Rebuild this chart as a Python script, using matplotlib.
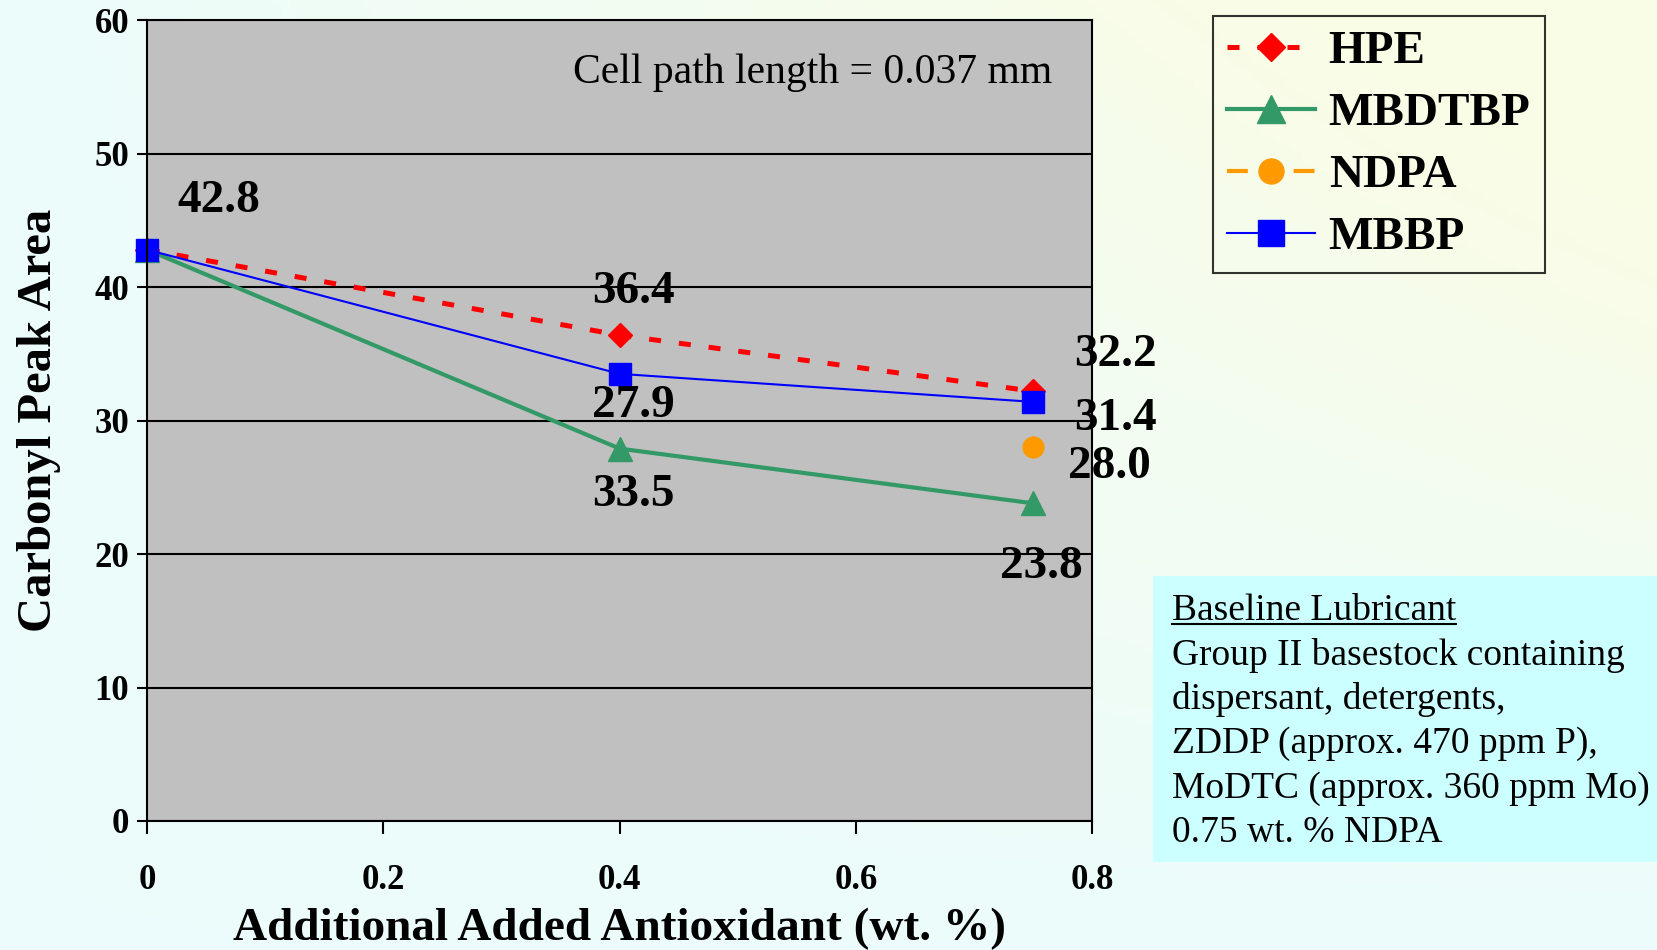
import numpy as np
import matplotlib.pyplot as plt
from matplotlib.lines import Line2D
from matplotlib.patches import Rectangle
from matplotlib.colors import LinearSegmentedColormap

plt.rcParams['font.family'] = ['Liberation Serif', 'DejaVu Serif']

# data
x = [0, 0.4, 0.75]
hpe = [42.8, 36.4, 32.2]
mbdtbp = [42.8, 27.9, 23.8]
ndpa_x = [0.75]
ndpa = [28.0]
mbbp = [42.8, 33.5, 31.4]

fig = plt.figure(figsize=(16.58, 9.5), dpi=100)

# background gradient (cyan -> pale yellow towards top right)
bg = fig.add_axes([0, 0, 1, 1], zorder=-10)
gx, gy = np.meshgrid(np.linspace(0, 1, 200), np.linspace(0, 1, 200))
grad = np.clip(gx * gy * 1.3, 0, 1)
cmap = LinearSegmentedColormap.from_list('bg', ['#ECFCFC', '#FAFDE6'])
bg.imshow(grad, cmap=cmap, origin='lower', extent=[0, 1, 0, 1], aspect='auto')
bg.axis('off')

ax = fig.add_axes([0.0887, 0.1358, 0.570, 0.843])
ax.set_facecolor('#C0C0C0')

ax.plot(x, hpe, color='red', lw=3.6, linestyle=(0, (2.4, 3.6)), dash_capstyle='butt',
        marker='D', markersize=12, label='HPE', clip_on=False)
ax.plot(x, mbdtbp, color='#339966', lw=3, marker='^', markersize=17, label='MBDTBP',
        clip_on=False)
ax.plot(ndpa_x, ndpa, color='#FF9900', lw=3, linestyle=(0, (5, 3)), marker='o',
        markersize=15, label='NDPA')
ax.plot(x, mbbp, color='blue', lw=1.5, marker='s', markersize=16, label='MBBP',
        clip_on=False)

ax.set_xlim(0, 0.8)
ax.set_ylim(0, 60)
ax.set_xticks([0, 0.2, 0.4, 0.6, 0.8])
ax.set_xticklabels(['0', '0.2', '0.4', '0.6', '0.8'])
ax.set_yticks(range(0, 61, 10))
ax.yaxis.grid(True, color='black', lw=1.5)
ax.set_axisbelow(True)
for s in ax.spines.values():
    s.set_color('black')
    s.set_linewidth(1.5)
ax.tick_params(axis='y', length=7, width=1.5, pad=6, labelsize=25)
ax.tick_params(axis='x', length=9, width=1.5, pad=22, labelsize=25)
for lab in ax.get_xticklabels() + ax.get_yticklabels():
    lab.set_fontweight('bold')

ax.set_xlabel('Additional Added Antioxidant (wt. %)', fontsize=34, fontweight='bold', labelpad=8)
ax.set_ylabel('Carbonyl Peak Area', fontsize=35, fontweight='bold', labelpad=24)

# value labels (offsets in points from each point)
labels = [
    (x[0], hpe[0], '42.8', (52, 35)),
    (x[1], hpe[1], '36.4', (10, 31)),
    (x[1], mbdtbp[1], '27.9', (10, 31)),
    (x[1], mbbp[1], '33.5', (10, -87)),
    (x[2], hpe[2], '32.2', (59, 26)),
    (x[2], mbbp[2], '31.4', (59, -12)),
    (ndpa_x[0], ndpa[0], '28.0', (55, -14)),
    (x[2], mbdtbp[2], '23.8', (6, -46)),
]
for px, py, txt, off in labels:
    ax.annotate(txt, (px, py), xytext=off, textcoords='offset points',
                ha='center', va='center', fontsize=34, fontweight='bold',
                annotation_clip=False, zorder=1)

ax.text(0.704, 0.934, 'Cell path length = 0.037 mm', transform=ax.transAxes,
        ha='center', va='center', fontsize=30)

leg = fig.legend(loc='upper left', bbox_to_anchor=(0.7316, 0.983),
                 prop={'weight': 'bold', 'size': 34}, frameon=True, fancybox=False,
                 handlelength=1.85, handletextpad=0.3, labelspacing=0.4,
                 borderpad=0.3, borderaxespad=0, markerscale=1.2)
leg.get_frame().set_edgecolor('black')
leg.get_frame().set_linewidth(1.5)
leg.get_frame().set_facecolor('none')

# baseline lubricant box
fig.add_artist(Rectangle((0.6954, 0.0926), 0.3046, 0.301, transform=fig.transFigure,
                         facecolor='#CCFFFF', edgecolor='none', zorder=1))
box_lines = ['Baseline Lubricant', 'Group II basestock containing', 'dispersant, detergents,',
             'ZDDP (approx. 470 ppm P),', 'MoDTC (approx. 360 ppm Mo)', '0.75 wt. % NDPA']
texts = []
for i, line in enumerate(box_lines):
    texts.append(fig.text(0.7069, 1 - (611 + 44.3 * i) / 950, line, ha='left',
                          va='center', fontsize=27, zorder=2))

fig.canvas.draw()
bb = texts[0].get_window_extent().transformed(fig.transFigure.inverted())
fig.add_artist(Line2D([bb.x0, bb.x1], [bb.y0 + 0.005, bb.y0 + 0.005], color='black',
                      lw=1.5, transform=fig.transFigure, zorder=3))

fig.savefig('out.png', dpi=100)
